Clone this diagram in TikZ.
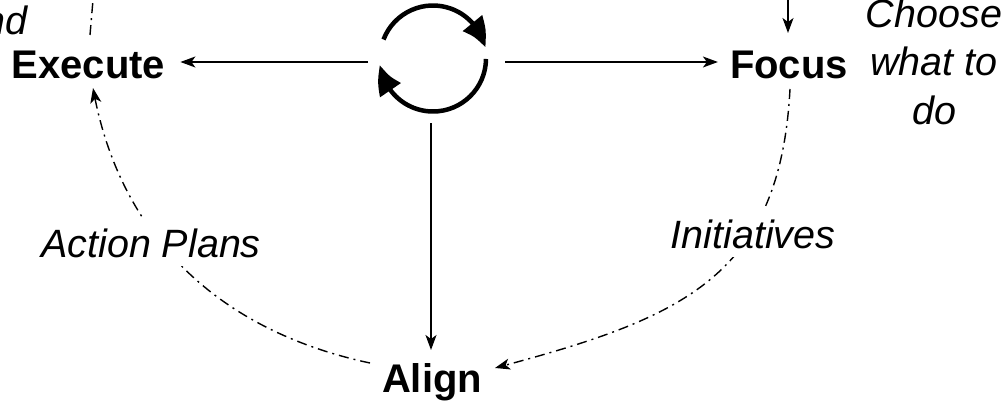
\documentclass[tikz,border=0pt]{standalone}
\usepackage{fontspec}
\setmainfont{Liberation Sans}
\usetikzlibrary{arrows.meta,bending}
\begin{document}
\begin{tikzpicture}[x=1pt,y=1pt,
  lbl/.style={inner sep=0pt,font=\fontsize{40}{48}\selectfont\bfseries},
  itl/.style={inner sep=0pt,font=\fontsize{39.5}{48.5}\selectfont\itshape},
  arr/.style={line width=1.4pt,-{Stealth[length=15pt,width=11pt,inset=4pt]}},
  dd/.style={line width=1.4pt,dash pattern=on 10pt off 5pt on 2pt off 5pt,
    -{Stealth[length=15pt,width=11pt,inset=4pt]}},
  ddplain/.style={line width=1.4pt,dash pattern=on 10pt off 5pt on 2pt off 5pt},
  cyc/.style={line width=4.5pt,-{Triangle[length=28pt,width=24pt,bend]}},
  tag/.style={inner sep=9pt,fill=white,font=\fontsize{39.5}{48.5}\selectfont\itshape}]
\useasboundingbox (0,0) rectangle (1007,400);
% main nodes
\node[lbl,anchor=base] (exec) at (88.5,322) {Execute};
\node[lbl,anchor=base] (focus) at (789,322) {Focus};
\node[lbl,anchor=base] (align) at (432,8) {Align};
\node[itl,anchor=base,align=center] (choose) at (934,276) {Choose\\what to\\do};
\node[itl,anchor=base east] (nd) at (28,365) {nd};
% cycle symbol
\coordinate (cc) at (433,341.5);
\draw[cyc] ([shift={(159:53)}]cc) arc[start angle=159,end angle=12,radius=53];
\draw[cyc] ([shift={(-0.5:53)}]cc) arc[start angle=-0.5,end angle=-173,radius=53];
\coordinate (cycL) at (368,338);
\coordinate (cycR) at (505,338);
\coordinate (cycB) at (431,277);
% straight connectors
\draw[arr,shorten >=15pt] (cycL) -- (cycL -| exec.east);
\draw[arr,shorten >=12pt] (cycR) -- (cycR -| focus.west);
\draw[arr] (cycB) -- (cycB |- 0,50);
% incoming arrow above Focus
\coordinate (topF) at (788,400);
\draw[arr] (topF) -- (788,367);
% dash-dot line leaving Execute upward
\coordinate (exTop) at (90,365);
\coordinate (exOut) at (93,400);
\draw[ddplain] (exTop) -- (exOut);
% curved dash-dot connectors
\coordinate (alL) at (370,37);
\coordinate (exS) at (93,312);
\coordinate (foS) at (790,311);
\coordinate (alR) at (495,32);
\draw[dd] (alL) to[out=168,in=-80] (exS);
\draw[dd] (foS) to[out=-93,in=15,looseness=1.2] (alR);
% labels on the curves
\node[tag,anchor=base] (ap) at (151,143) {Action Plans};
\node[tag,anchor=base] (ini) at (753,152) {Initiatives};
\end{tikzpicture}
\end{document}
